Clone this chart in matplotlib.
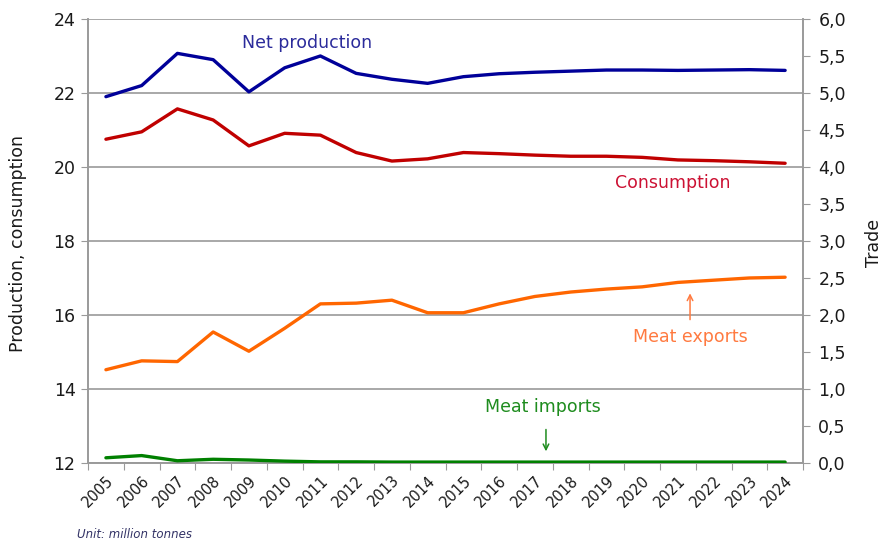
import matplotlib.pyplot as plt
import numpy as np

years = [str(y) for y in range(2005, 2025)]

# left axis (million tonnes)
net_production = [21.9, 22.2, 23.07, 22.9, 22.03, 22.68, 23.0, 22.53, 22.37, 22.26,
                  22.44, 22.52, 22.56, 22.59, 22.62, 22.62, 22.61, 22.62, 22.63, 22.61]
consumption = [20.75, 20.95, 21.57, 21.27, 20.57, 20.91, 20.86, 20.39, 20.16, 20.22,
               20.39, 20.36, 20.32, 20.29, 20.29, 20.26, 20.19, 20.17, 20.14, 20.1]

# right axis (trade)
meat_exports = [1.26, 1.38, 1.37, 1.77, 1.51, 1.82, 2.15, 2.16, 2.2, 2.03,
                2.03, 2.15, 2.25, 2.31, 2.35, 2.38, 2.44, 2.47, 2.5, 2.51]
meat_imports = [0.07, 0.1, 0.03, 0.05, 0.04, 0.025, 0.015, 0.015, 0.012, 0.012,
                0.012, 0.012, 0.012, 0.012, 0.012, 0.012, 0.012, 0.012, 0.012, 0.012]

plt.rcParams['font.family'] = ['DejaVu Sans']
grid_col = '#9A9A9A'
text_col = '#1a1a1a'

fig = plt.figure(figsize=(8.83, 5.42), dpi=100)
ax = fig.add_axes([0.0997, 0.1458, 0.8097, 0.8192])
ax2 = ax.twinx()

x = np.arange(len(years))
ax.plot(x, net_production, color='#000099', lw=2.4, solid_capstyle='round', zorder=3)
ax.plot(x, consumption, color='#C00000', lw=2.4, solid_capstyle='round', zorder=3)
ax2.plot(x, meat_exports, color='#FF6600', lw=2.4, solid_capstyle='round', zorder=3)
ax2.plot(x, meat_imports, color='#008000', lw=2.4, solid_capstyle='round', zorder=3)

ax.set_xlim(-0.5, len(years) - 0.5)
ax.set_ylim(12, 24)
ax2.set_ylim(0, 6)

ax.set_yticks(np.arange(12, 25, 2))
ax.yaxis.grid(True, color=grid_col, lw=1.2)
ax.set_axisbelow(True)
ax2.set_yticks(np.arange(0, 6.01, 0.5))
ax2.set_yticklabels([f'{v:.1f}'.replace('.', ',') for v in np.arange(0, 6.01, 0.5)])

# category axis: ticks between categories, labels at centres
ax.set_xticks(np.arange(-0.5, len(years), 1))
ax.set_xticklabels([])
ax.set_xticks(x, minor=True)
ax.set_xticklabels(years, minor=True, rotation=45, ha='right', va='top',
                   rotation_mode='anchor', fontsize=10.5, color=text_col)
ax.tick_params(axis='x', which='minor', length=0, pad=7)
ax.tick_params(axis='x', which='major', length=5, color=grid_col)

ax.tick_params(axis='y', length=5, color=grid_col, labelsize=12.5, labelcolor=text_col, pad=4)
ax2.tick_params(axis='y', length=5, color=grid_col, labelsize=12.5, labelcolor=text_col, pad=6)

for a in (ax, ax2):
    a.spines['top'].set_visible(False)
    for s in ('left', 'right', 'bottom'):
        a.spines[s].set_color(grid_col)
        a.spines[s].set_linewidth(1.2)

# axis titles placed directly in figure pixels
fig.text(18 / 883, 1 - 244 / 542, 'Production, consumption', fontsize=12.5, color=text_col,
         rotation=90, ha='center', va='center')
fig.text(874 / 883, 1 - 243 / 542, 'Trade', fontsize=12.5, color=text_col,
         rotation=90, ha='center', va='center')

ax.text(5.62, 23.35, 'Net production', color='#2B2B9B', fontsize=12.5, ha='center', va='center')
ax.text(15.86, 19.57, 'Consumption', color='#CC1133', fontsize=12.5, ha='center', va='center')
ax2.text(16.34, 1.70, 'Meat exports', color='#FF7A40', fontsize=12.5, ha='center', va='center')
ax2.annotate('', xy=(16.34, 2.33), xytext=(16.34, 1.9),
             arrowprops=dict(arrowstyle='->', color='#FF7A40', lw=1.1))
ax2.text(12.22, 0.757, 'Meat imports', color='#1E8C1E', fontsize=12.5, ha='center', va='center')
ax2.annotate('', xy=(12.31, 0.12), xytext=(12.31, 0.49),
             arrowprops=dict(arrowstyle='->', color='#1E8C1E', lw=1.1))

fig.text(77 / 883, 1 - 535 / 542, 'Unit: million tonnes', fontsize=8.5, style='italic',
         color='#333366', va='center')

fig.savefig('out.png', dpi=100)
